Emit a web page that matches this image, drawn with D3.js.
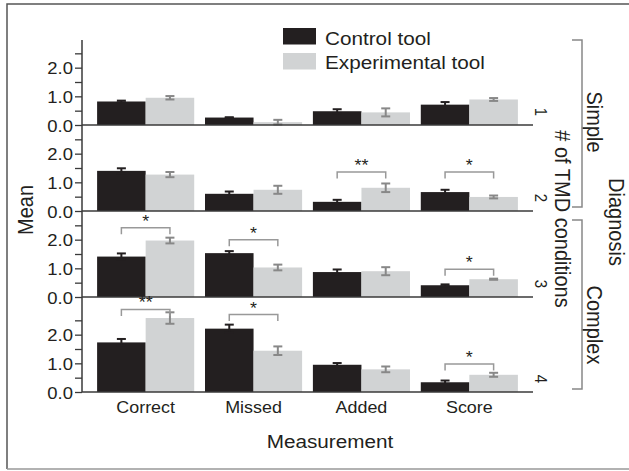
<!DOCTYPE html>
<html>
<head>
<meta charset="utf-8">
<script src="https://cdn.jsdelivr.net/npm/d3@7"></script>
<style>
  body { margin: 0; background: #fff; }
  text { font-family: "Liberation Sans", Arial, sans-serif; fill: #231f20; }
</style>
</head>
<body>
<svg width="629" height="471"></svg>
<script>
/* values */
var categories = ["Correct", "Missed", "Added", "Score"];
var series = ["Control tool", "Experimental tool"];
var panels = ["1", "2", "3", "4"];

var controlMean = [[0.82, 0.26, 0.48, 0.71],
                   [1.40, 0.60, 0.32, 0.66],
                   [1.41, 1.53, 0.87, 0.41],
                   [1.73, 2.21, 0.95, 0.34]];
var controlErr  = [[0.03, 0.01, 0.07, 0.09],
                   [0.09, 0.08, 0.07, 0.08],
                   [0.11, 0.07, 0.09, 0.03],
                   [0.12, 0.14, 0.06, 0.06]];
var expMean     = [[0.95, 0.10, 0.44, 0.89],
                   [1.27, 0.74, 0.81, 0.49],
                   [1.97, 1.03, 0.90, 0.62],
                   [2.58, 1.44, 0.79, 0.60]];
var expErr      = [[0.06, 0.08, 0.14, 0.05],
                   [0.09, 0.14, 0.15, 0.05],
                   [0.10, 0.10, 0.14, 0.02],
                   [0.20, 0.15, 0.10, 0.07]];

// significance brackets
var sigPanel = [1, 1, 2, 2, 2, 3, 3, 3];
var sigCat   = ["Added", "Score", "Correct", "Missed", "Score", "Correct", "Missed", "Score"];
var sigLabel = ["**", "*", "*", "*", "*", "**", "*", "*"];
var sigLevel = [1.36, 1.36, 2.42, 2.0, 0.97, 2.88, 2.70, 0.98];

var tickVals = [0, 0.5, 1, 1.5, 2, 2.5];

var svg = d3.select("svg");
var SX = 1.12; // text in the figure is a bit wide

var black = "#231f20", grey = "#d1d3d4", errGrey = "#888", lineCol = "#3a3a3a";

function txt(g, x, y, s, size, rot, anchor) {
    return g.append("text")
        .attr("transform", "translate(" + x + "," + y + ") scale(" + SX + ",1)" + (rot ? " rotate(" + rot + ")" : ""))
        .attr("text-anchor", anchor || "middle")
        .style("font-size", size + "px")
        .text(s);
}

// frame (right side is cut off in the figure)
svg.append("path")
    .attr("d", "M629,4H7V469")
    .attr("fill", "none").attr("stroke", "#555").attr("stroke-width", 1.5);
svg.append("line")
    .attr("x1", 7).attr("x2", 629).attr("y1", 469).attr("y2", 469)
    .attr("stroke", "#999").attr("stroke-width", 1.5);

var x = d3.scaleBand().domain(categories).range([82, 533]).paddingInner(0.1).paddingOuter(0.14);
var xs = d3.scaleBand().domain(series).range([0, x.bandwidth()]);

var panelZero = [125, 211, 297, 392];
var panelTop = [40, 125, 211, 297];

panels.forEach(function (p, i) {
    var y = d3.scaleLinear().domain([0, 3]).range([panelZero[i], panelZero[i] - 86]);
    var g = svg.append("g");

    var rows = categories.map(function (c, j) {
        return {cat: c, vals: [
            {s: series[0], v: controlMean[i][j], e: controlErr[i][j]},
            {s: series[1], v: expMean[i][j], e: expErr[i][j]}]};
    });

    var grp = g.selectAll(".grp").data(rows).enter().append("g")
        .attr("transform", function (d) { return "translate(" + x(d.cat) + ",0)"; });

    grp.selectAll("rect").data(function (d) { return d.vals; }).enter().append("rect")
        .attr("x", function (d) { return xs(d.s); })
        .attr("width", xs.bandwidth())
        .attr("y", function (d) { return y(d.v); })
        .attr("height", function (d) { return y(0) - y(d.v); })
        .attr("fill", function (d, k) { return k === 0 ? black : grey; });

    // error bars
    var eb = grp.selectAll(".eb").data(function (d) { return d.vals; }).enter().append("g")
        .attr("stroke", function (d, k) { return k === 0 ? black : errGrey; })
        .attr("stroke-width", 2);
    eb.append("line")
        .attr("x1", function (d) { return xs(d.s) + xs.bandwidth() / 2; })
        .attr("x2", function (d) { return xs(d.s) + xs.bandwidth() / 2; })
        .attr("y1", function (d) { return y(d.v - d.e); })
        .attr("y2", function (d) { return y(d.v + d.e); });
    [1, -1].forEach(function (sgn) {
        eb.append("line")
            .attr("x1", function (d) { return xs(d.s) + xs.bandwidth() / 2 - 4.5; })
            .attr("x2", function (d) { return xs(d.s) + xs.bandwidth() / 2 + 4.5; })
            .attr("y1", function (d) { return y(d.v + sgn * d.e); })
            .attr("y2", function (d) { return y(d.v + sgn * d.e); });
    });

    // y axis
    var ax = g.append("g")
        .attr("transform", "translate(82,0)")
        .call(d3.axisLeft(y).tickValues(tickVals).tickSize(7).tickPadding(1)
            .tickFormat(function (d) { return d % 1 === 0 ? d3.format(".1f")(d) : ""; }));
    ax.select(".domain").remove();
    ax.selectAll("line").attr("stroke", lineCol).attr("stroke-width", 1.3);
    ax.selectAll("text").remove();
    ax.selectAll(".tick").each(function (d) {
        if (d % 1 === 0) txt(d3.select(this), -9, 6, d3.format(".1f")(d), 16.5, 0, "end");
    });

    g.append("line")
        .attr("x1", 82).attr("x2", 82).attr("y1", panelTop[i]).attr("y2", panelZero[i])
        .attr("stroke", lineCol).attr("stroke-width", 1.5);
    g.append("line")
        .attr("x1", 82).attr("x2", 533).attr("y1", y(0)).attr("y2", y(0))
        .attr("stroke", lineCol).attr("stroke-width", 1.5);

    // panel number
    txt(g, 535, panelZero[i] - 13, p, 15, 90, "middle");

    // significance brackets
    sigPanel.forEach(function (sp, k) {
        if (sp !== i) return;
        var x1 = x(sigCat[k]) + xs(series[0]) + xs.bandwidth() / 2;
        var x2 = x(sigCat[k]) + xs(series[1]) + xs.bandwidth() / 2;
        var yl = y(sigLevel[k]);
        g.append("path")
            .attr("d", "M" + x1 + "," + (yl + 6.5) + "V" + yl + "H" + x2 + "V" + (yl + 6.5))
            .attr("fill", "none").attr("stroke", "#999").attr("stroke-width", 1.5);
        txt(g, (x1 + x2) / 2, yl - 1, sigLabel[k], 16, 0, "middle");
    });
});

// category labels
categories.forEach(function (c) {
    txt(svg, x(c) + x.bandwidth() / 2, 413, c, 16, 0, "middle");
});

// axis titles
txt(svg, 330, 448, "Measurement", 18.5, 0, "middle");
txt(svg, 33, 210, "Mean", 20, -90, "middle");
txt(svg, 555, 219, "# of TMD conditions", 20, 90, "middle");
txt(svg, 587, 122, "Simple", 20, 90, "middle");
txt(svg, 587, 325, "Complex", 20, 90, "middle");
txt(svg, 609, 222, "Diagnosis", 20, 90, "middle");

// brackets on the right
[[40, 207], [220, 389]].forEach(function (b) {
    svg.append("path")
        .attr("d", "M572," + b[0] + "H582V" + b[1] + "H572")
        .attr("fill", "none").attr("stroke", "#888").attr("stroke-width", 1.5);
});

// legend
var leg = svg.append("g");
series.forEach(function (s, k) {
    leg.append("rect")
        .attr("x", 283).attr("y", 28 + k * 25).attr("width", 33).attr("height", 16.5)
        .attr("fill", k === 0 ? black : grey);
    txt(leg, 325, 45 + k * 23.5, s, 18.5, 0, "start");
});
</script>
</body>
</html>
